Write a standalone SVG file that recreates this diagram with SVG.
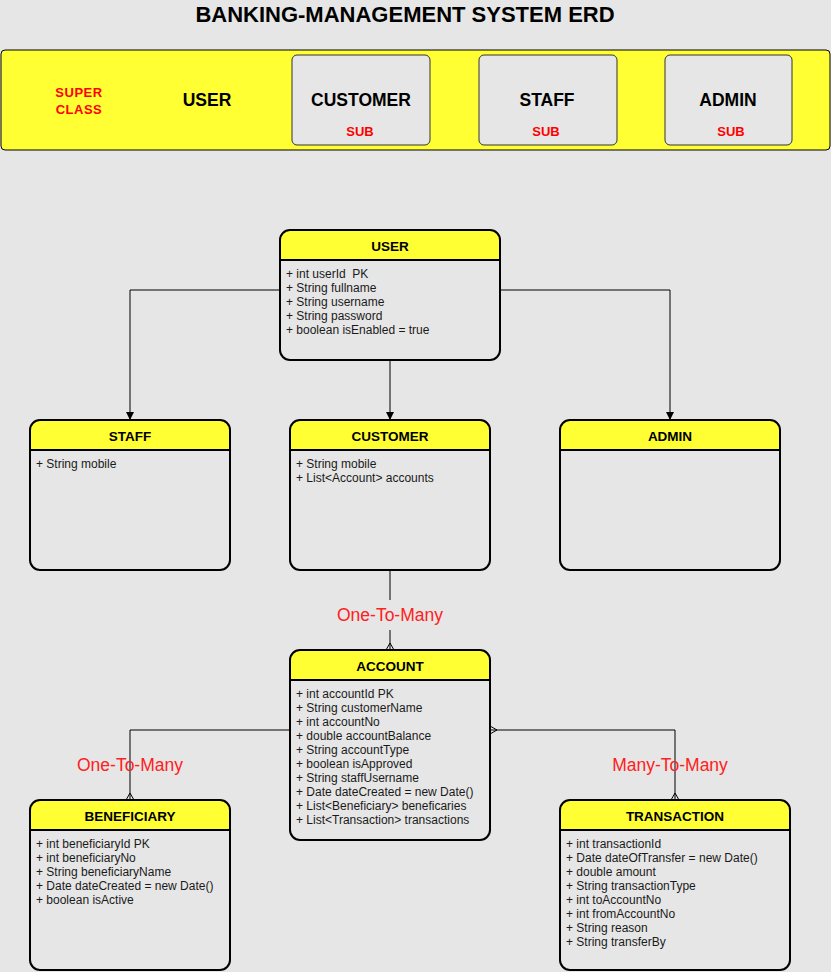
<svg xmlns="http://www.w3.org/2000/svg" width="831" height="972" viewBox="0 0 831 972">
<style>
.bg{fill:#e6e6e6}
.hdr{fill:#ffff33}
.box{fill:none;stroke:#000;stroke-width:2}
.sep{stroke:#000;stroke-width:2}
.ttl{font-family:"Liberation Sans",Arial,sans-serif;font-weight:bold;font-size:13.5px;fill:#000;text-anchor:middle}
.att{font-family:"Liberation Sans",Arial,sans-serif;font-size:12px;fill:#1a1a1a;white-space:pre}
.con{fill:none;stroke:#000;stroke-width:1}
.rel{font-family:"Liberation Sans",Arial,sans-serif;font-size:17.5px;fill:#ff2020;text-anchor:middle}
.big{font-family:"Liberation Sans",Arial,sans-serif;font-weight:bold;font-size:17.5px;fill:#000;text-anchor:middle}
.sub{font-family:"Liberation Sans",Arial,sans-serif;font-weight:bold;font-size:13px;fill:#ff0000;text-anchor:middle}
.subbox{fill:#e6e6e6;stroke:#333;stroke-width:1}
</style>
<defs>
<marker id="arrow" viewBox="0 0 10 10" refX="10" refY="5" markerWidth="8" markerHeight="8" markerUnits="userSpaceOnUse" orient="auto">
<path d="M0,0 L10,5 L0,10 Z" fill="#000"/>
</marker>
<marker id="many" viewBox="0 0 10 10" refX="10" refY="5" markerWidth="10" markerHeight="10" markerUnits="userSpaceOnUse" orient="auto-start-reverse">
<path d="M3,5 L10,1 M3,5 L10,9" fill="none" stroke="#000" stroke-width="1"/>
</marker>
</defs>
<rect class="bg" x="0" y="0" width="831" height="972"/>

<text x="405" y="22" font-family="Liberation Sans,Arial,sans-serif" font-weight="bold" font-size="22" text-anchor="middle" fill="#000">BANKING-MANAGEMENT SYSTEM ERD</text>

<g id="legend">
<rect x="1" y="50" width="829" height="100" rx="4" fill="#ffff33" stroke="#000" stroke-width="1"/>
<text class="sub" x="79" y="97" letter-spacing="0.5">SUPER</text>
<text class="sub" x="79" y="114" letter-spacing="0.5">CLASS</text>
<text class="big" x="207" y="106">USER</text>
<rect class="subbox" x="292" y="55" width="138" height="90" rx="5"/>
<text class="big" x="361" y="106">CUSTOMER</text>
<text class="sub" x="360" y="136">SUB</text>
<rect class="subbox" x="479" y="55" width="138" height="90" rx="5"/>
<text class="big" x="547" y="106">STAFF</text>
<text class="sub" x="546" y="136">SUB</text>
<rect class="subbox" x="665" y="55" width="127" height="90" rx="5"/>
<text class="big" x="728" y="106">ADMIN</text>
<text class="sub" x="731" y="136">SUB</text>
</g>

<g id="connectors">
<path class="con" d="M280,290 H130 V420" marker-end="url(#arrow)"/>
<path class="con" d="M390,360 V420" marker-end="url(#arrow)"/>
<path class="con" d="M500,290 H670 V420" marker-end="url(#arrow)"/>
<path class="con" d="M390,570 V600"/>
<path class="con" d="M390,630 V650" marker-end="url(#many)"/>
<text class="rel" x="390" y="621">One-To-Many</text>
<path class="con" d="M290,730 H130 V800" marker-end="url(#many)"/>
<text class="rel" x="130" y="771">One-To-Many</text>
<path class="con" d="M490,730 H675 V800" marker-start="url(#many)" marker-end="url(#many)"/>
<text class="rel" x="670" y="771">Many-To-Many</text>
</g>

<g id="user">
<rect class="bg" x="280" y="230" width="220" height="130" rx="10"/>
<path class="hdr" d="M280,260 V240 A10,10 0 0 1 290,230 H490 A10,10 0 0 1 500,240 V260 Z"/>
<line class="sep" x1="280" y1="260" x2="500" y2="260"/>
<rect class="box" x="280" y="230" width="220" height="130" rx="10"/>
<text class="ttl" x="390" y="251">USER</text>
<text class="att" x="286" y="278" xml:space="preserve">+ int userId  PK</text>
<text class="att" x="286" y="292">+ String fullname</text>
<text class="att" x="286" y="306">+ String username</text>
<text class="att" x="286" y="320">+ String password</text>
<text class="att" x="286" y="334">+ boolean isEnabled = true</text>
</g>

<g id="staff">
<rect class="bg" x="30" y="420" width="200" height="150" rx="10"/>
<path class="hdr" d="M30,450 V430 A10,10 0 0 1 40,420 H220 A10,10 0 0 1 230,430 V450 Z"/>
<line class="sep" x1="30" y1="450" x2="230" y2="450"/>
<rect class="box" x="30" y="420" width="200" height="150" rx="10"/>
<text class="ttl" x="130" y="441">STAFF</text>
<text class="att" x="36" y="468">+ String mobile</text>
</g>

<g id="customer">
<rect class="bg" x="290" y="420" width="200" height="150" rx="10"/>
<path class="hdr" d="M290,450 V430 A10,10 0 0 1 300,420 H480 A10,10 0 0 1 490,430 V450 Z"/>
<line class="sep" x1="290" y1="450" x2="490" y2="450"/>
<rect class="box" x="290" y="420" width="200" height="150" rx="10"/>
<text class="ttl" x="390" y="441">CUSTOMER</text>
<text class="att" x="296" y="468">+ String mobile</text>
<text class="att" x="296" y="482">+ List&lt;Account&gt; accounts</text>
</g>

<g id="admin">
<rect class="bg" x="560" y="420" width="220" height="150" rx="10"/>
<path class="hdr" d="M560,450 V430 A10,10 0 0 1 570,420 H770 A10,10 0 0 1 780,430 V450 Z"/>
<line class="sep" x1="560" y1="450" x2="780" y2="450"/>
<rect class="box" x="560" y="420" width="220" height="150" rx="10"/>
<text class="ttl" x="670" y="441">ADMIN</text>
</g>

<g id="account">
<rect class="bg" x="290" y="650" width="200" height="190" rx="10"/>
<path class="hdr" d="M290,680 V660 A10,10 0 0 1 300,650 H480 A10,10 0 0 1 490,660 V680 Z"/>
<line class="sep" x1="290" y1="680" x2="490" y2="680"/>
<rect class="box" x="290" y="650" width="200" height="190" rx="10"/>
<text class="ttl" x="390" y="671">ACCOUNT</text>
<text class="att" x="296" y="698">+ int accountId PK</text>
<text class="att" x="296" y="712">+ String customerName</text>
<text class="att" x="296" y="726">+ int accountNo</text>
<text class="att" x="296" y="740">+ double accountBalance</text>
<text class="att" x="296" y="754">+ String accountType</text>
<text class="att" x="296" y="768">+ boolean isApproved</text>
<text class="att" x="296" y="782">+ String staffUsername</text>
<text class="att" x="296" y="796">+ Date dateCreated = new Date()</text>
<text class="att" x="296" y="810">+ List&lt;Beneficiary&gt; beneficaries</text>
<text class="att" x="296" y="824">+ List&lt;Transaction&gt; transactions</text>
</g>

<g id="beneficiary">
<rect class="bg" x="30" y="800" width="200" height="170" rx="10"/>
<path class="hdr" d="M30,830 V810 A10,10 0 0 1 40,800 H220 A10,10 0 0 1 230,810 V830 Z"/>
<line class="sep" x1="30" y1="830" x2="230" y2="830"/>
<rect class="box" x="30" y="800" width="200" height="170" rx="10"/>
<text class="ttl" x="130" y="821">BENEFICIARY</text>
<text class="att" x="36" y="848">+ int beneficiaryId PK</text>
<text class="att" x="36" y="862">+ int beneficiaryNo</text>
<text class="att" x="36" y="876">+ String beneficiaryName</text>
<text class="att" x="36" y="890">+ Date dateCreated = new Date()</text>
<text class="att" x="36" y="904">+ boolean isActive</text>
</g>

<g id="transaction">
<rect class="bg" x="560" y="800" width="230" height="170" rx="10"/>
<path class="hdr" d="M560,830 V810 A10,10 0 0 1 570,800 H780 A10,10 0 0 1 790,810 V830 Z"/>
<line class="sep" x1="560" y1="830" x2="790" y2="830"/>
<rect class="box" x="560" y="800" width="230" height="170" rx="10"/>
<text class="ttl" x="675" y="821">TRANSACTION</text>
<text class="att" x="566" y="848">+ int transactionId</text>
<text class="att" x="566" y="862">+ Date dateOfTransfer = new Date()</text>
<text class="att" x="566" y="876">+ double amount</text>
<text class="att" x="566" y="890">+ String transactionType</text>
<text class="att" x="566" y="904">+ int toAccountNo</text>
<text class="att" x="566" y="918">+ int fromAccountNo</text>
<text class="att" x="566" y="932">+ String reason</text>
<text class="att" x="566" y="946">+ String transferBy</text>
</g>
</svg>
